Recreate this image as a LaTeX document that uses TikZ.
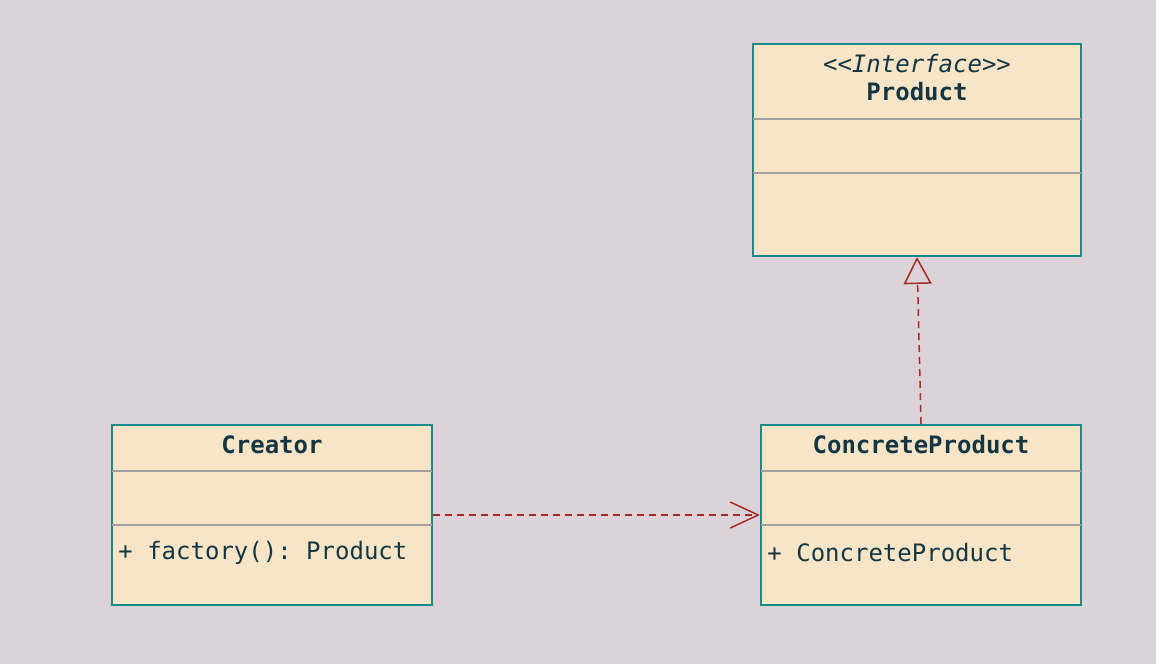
\documentclass[tikz,border=0pt]{standalone}
\usepackage{fontspec}
\setmonofont{DejaVu Sans Mono}
\usepackage{xcolor}
\usetikzlibrary{arrows.meta,positioning}

\definecolor{bgcol}{HTML}{DCD3D8}
\definecolor{boxfill}{HTML}{F8E5C8}
\definecolor{boxline}{HTML}{178A8A}
\definecolor{inkcol}{HTML}{143642}
\definecolor{sepcol}{HTML}{A0A0A0}
\definecolor{linkcol}{HTML}{A52A2A}

\begin{document}
\begin{tikzpicture}[
        x=0.5pt, y=-0.5pt,
        classbox/.style={rectangle, draw=boxline, fill=boxfill, line width=1pt, inner sep=0pt, minimum width=160pt, minimum height=90pt},
        classname/.style={font=\ttfamily\bfseries\fontsize{12}{14}\selectfont, text=inkcol, inner sep=0pt},
        stereo/.style={font=\ttfamily\itshape\fontsize{12}{14}\selectfont, text=inkcol, inner sep=0pt},
        member/.style={font=\ttfamily\fontsize{12}{14}\selectfont, text=inkcol, anchor=west, inner sep=0pt},
        sep/.style={draw=sepcol, line width=0.75pt},
        dep/.style={draw=linkcol, line width=0.75pt, dash pattern=on 3.5pt off 2.5pt, -{Straight Barb[length=14pt, width=13pt]}},
        impl/.style={draw=linkcol, line width=0.75pt, dash pattern=on 3.5pt off 2.5pt, -{Triangle[open, length=13.5pt, width=14pt]}}
    ]
        \useasboundingbox[fill=bgcol] (0,0) rectangle (1156,664);

        % Classes
        \node[classbox, anchor=north west] (creator) at (111,424) {};
        \node[classbox, right=163.5pt of creator] (concrete) {};
        \node[classbox, minimum width=164pt, minimum height=106pt, above=83.5pt of concrete, xshift=-2pt] (product) {};

        % Compartments
        \draw[sep] ([xshift=0.5pt, yshift=-23.5pt]creator.north west) -- ([xshift=-0.5pt, yshift=-23.5pt]creator.north east);
        \draw[sep] ([xshift=0.5pt, yshift=-50.5pt]creator.north west) -- ([xshift=-0.5pt, yshift=-50.5pt]creator.north east);
        \draw[sep] ([xshift=0.5pt, yshift=-23.5pt]concrete.north west) -- ([xshift=-0.5pt, yshift=-23.5pt]concrete.north east);
        \draw[sep] ([xshift=0.5pt, yshift=-50.5pt]concrete.north west) -- ([xshift=-0.5pt, yshift=-50.5pt]concrete.north east);
        \draw[sep] ([xshift=0.5pt, yshift=-38pt]product.north west) -- ([xshift=-0.5pt, yshift=-38pt]product.north east);
        \draw[sep] ([xshift=0.5pt, yshift=-65pt]product.north west) -- ([xshift=-0.5pt, yshift=-65pt]product.north east);

        % Names
        \node[classname] (creatorname) at ([yshift=-10.5pt]creator.north) {Creator};
        \node[classname] (concretename) at ([yshift=-10.5pt]concrete.north) {ConcreteProduct};
        \node[stereo] (productstereo) at ([yshift=-10.5pt]product.north) {<{}<Interface>{}>};
        \node[classname] (productname) at ([yshift=-24.5pt]product.north) {Product};

        % Operations
        \node[member] (creatorop) at ([xshift=3.5pt, yshift=-64.5pt]creator.north west) {+ factory(): Product};
        \node[member] (concreteop) at ([xshift=3.5pt, yshift=-64.5pt]concrete.north west) {+ ConcreteProduct};

        % Relations
        \draw[dep] (creator) -- (concrete);
        \draw[impl] (concrete.north) -- (product.south);
    \end{tikzpicture}
\end{document}
